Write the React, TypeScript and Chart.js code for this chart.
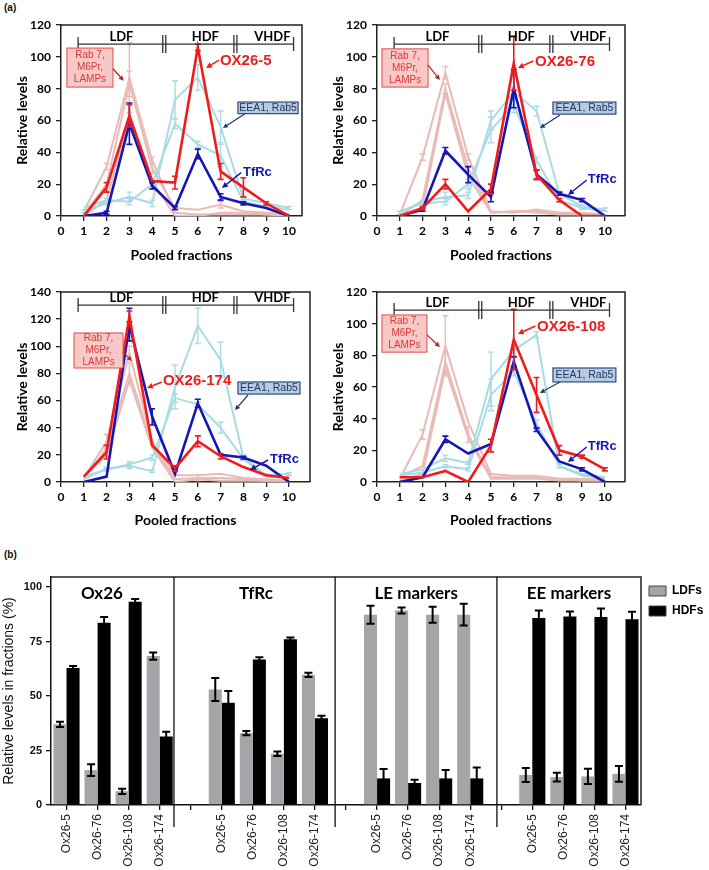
import React, { useEffect, useRef } from 'react';
import { Chart, registerables } from 'chart.js';

Chart.register(...registerables);

// ---------------- data ----------------
const FRACTIONS = [1, 2, 3, 4, 5, 6, 7, 8, 9, 10];
const X_TICKS = [0, 1, 2, 3, 4, 5, 6, 7, 8, 9, 10];
const LE_NAMES = ['Rab 7', 'M6Pr', 'LAMPs'];
const EE_NAMES = ['EEA1', 'Rab5'];

// Panel OX26-5
const OX5 = [0, 18, 63, 22, 21, 106, 28, 18, 8, 0];
const OX5_ERR = [0, 3, 7, 0, 4, 2, 5, 6, 1, 0];
const TF5 = [0, 2, 58, 19, 5, 39, 12, 8, 5, 0];
const TF5_ERR = [0, 1, 13, 2, 1, 3, 2, 1, 0, 0];
const LE5_A = [3, 31, 87, 35, 2, 1, 1, 1, 1, 1];
const LE5_B = [1, 20, 83, 30, 5, 4, 7, 3, 2, 1];
const LE5_C = [0, 10, 62, 22, 0, 0, 2, 2, 1, 0];
const LE5_A_ERR = [0, 2, 22, 2, 0, 0, 0, 0, 0, 0];
const LE5_B_ERR = [0, 0, 8, 3, 0, 0, 2, 0, 0, 0];
const LE5_C_ERR = [0, 0, 0, 0, 0, 0, 0, 0, 0, 0];
const EE5_A = [3, 8, 12, 8, 73, 87, 56, 11, 8, 5];
const EE5_B = [5, 10, 9, 20, 58, 45, 38, 9, 6, 4];
const EE5_A_ERR = [1, 1, 3, 2, 12, 8, 10, 1, 1, 1];
const EE5_B_ERR = [0, 1, 2, 3, 3, 2, 7, 1, 1, 0];

// Panel OX26-76
const OX76 = [0, 5, 20, 3, 17, 96, 26, 10, 0, 0];
const OX76_ERR = [0, 1, 3, 0, 3, 17, 3, 1, 0, 0];
const TF76 = [0, 4, 41, 26, 12, 80, 26, 14, 10, 0];
const TF76_ERR = [0, 1, 2, 5, 3, 12, 3, 1, 1, 0];
const LE76_A = [1, 37, 90, 37, 3, 2, 4, 2, 2, 1];
const LE76_B = [0, 10, 80, 30, 2, 3, 3, 2, 1, 1];
const LE76_C = [0, 5, 77, 25, 2, 3, 2, 1, 1, 1];
const LE76_A_ERR = [0, 2, 4, 2, 0, 0, 0, 0, 0, 0];
const LE76_B_ERR = [0, 0, 3, 0, 0, 0, 0, 0, 0, 0];
const LE76_C_ERR = [0, 0, 0, 0, 0, 0, 0, 0, 0, 0];
const EE76_A = [2, 9, 12, 13, 60, 78, 66, 14, 6, 4];
const EE76_B = [3, 8, 9, 20, 54, 70, 35, 10, 5, 3];
const EE76_A_ERR = [1, 1, 3, 2, 6, 10, 3, 1, 1, 1];
const EE76_B_ERR = [0, 1, 2, 3, 8, 5, 2, 1, 1, 0];

// Panel OX26-174
const OX174 = [4, 22, 122, 27, 10, 30, 19, 11, 5, 3];
const OX174_ERR = [0, 5, 4, 0, 2, 4, 2, 0, 0, 0];
const TF174 = [0, 4, 116, 48, 6, 58, 20, 18, 12, 0];
const TF174_ERR = [0, 0, 12, 6, 0, 3, 0, 1, 0, 0];
const LE174_A = [3, 30, 95, 30, 5, 5, 6, 3, 2, 1];
const LE174_B = [2, 25, 80, 28, 2, 3, 3, 2, 1, 1];
const LE174_C = [4, 20, 75, 25, 0, 2, 1, 1, 1, 1];
const LE174_A_ERR = [0, 5, 5, 0, 0, 0, 0, 0, 0, 0];
const LE174_B_ERR = [0, 0, 8, 0, 0, 2, 0, 0, 0, 0];
const LE174_C_ERR = [0, 0, 0, 0, 0, 0, 0, 0, 0, 0];
const EE174_A = [2, 10, 12, 8, 70, 115, 90, 18, 5, 6];
const EE174_B = [4, 9, 13, 18, 62, 57, 40, 17, 4, 3];
const EE174_A_ERR = [0, 1, 2, 1, 16, 13, 13, 2, 1, 1];
const EE174_B_ERR = [0, 1, 2, 2, 3, 2, 4, 1, 0, 0];

// Panel OX26-108
const OX108 = [3, 3, 7, 0, 23, 90, 55, 20, 16, 8];
const OX108_ERR = [0, 0, 0, 0, 4, 19, 11, 3, 1, 1];
const TF108 = [0, 3, 27, 18, 24, 76, 33, 13, 8, 0];
const TF108_ERR = [0, 0, 2, 0, 0, 3, 1, 0, 1, 0];
const LE108_A = [2, 30, 86, 38, 5, 4, 4, 2, 2, 2];
const LE108_B = [3, 10, 76, 30, 3, 3, 3, 2, 1, 1];
const LE108_C = [1, 5, 72, 28, 2, 2, 2, 1, 1, 1];
const LE108_A_ERR = [0, 3, 19, 0, 0, 0, 0, 0, 0, 0];
const LE108_B_ERR = [0, 0, 6, 5, 0, 0, 0, 0, 0, 0];
const LE108_C_ERR = [0, 0, 0, 0, 0, 0, 0, 0, 0, 0];
const EE108_A = [5, 8, 15, 12, 65, 83, 93, 10, 5, 3];
const EE108_B = [4, 6, 10, 8, 55, 70, 37, 10, 4, 3];
const EE108_A_ERR = [0, 0, 2, 1, 17, 3, 2, 1, 0, 0];
const EE108_B_ERR = [0, 0, 1, 1, 10, 3, 2, 0, 0, 0];

// Bar chart (b)
const ANTIBODIES = ['Ox26-5', 'Ox26-76', 'Ox26-108', 'Ox26-174'];
const BAR_CATEGORIES = [...ANTIBODIES, '', ...ANTIBODIES, '', ...ANTIBODIES, '', ...ANTIBODIES];
const GROUP_TITLES = ['Ox26', 'TfRc', 'LE markers', 'EE markers'];
const LDF_LEVELS = [37, 16, 6.3, 68.3, null, 53, 33, 23.5, 59.7, null, 87.3, 89.2, 87.3, 87.3, null, 13.8, 12.8, 13.1, 14.3];
const LDF_ERR = [1.2, 2.7, 1.2, 1.7, 0, 5.3, 1, 1, 1, 0, 4.1, 1.4, 3.7, 5, 0, 3.2, 2, 3.5, 3.6];
const HDF_LEVELS = [62.8, 83.6, 93.3, 31.4, null, 46.9, 66.8, 76, 39.8, null, 12.2, 10.1, 12.2, 12.2, null, 85.8, 86.5, 86.3, 85.2];
const HDF_ERR = [1, 2.7, 1.2, 2.2, 0, 5.4, 1, 0.8, 1.2, 0, 4.3, 1.5, 3.8, 5, 0, 3.4, 2.3, 3.8, 3.5];

// ---------------- styles ----------------
const RED = '#f01c1c';
const BLUE = '#1616b4';
const PINK = '#e8bbb6';
const LBLUE = '#a9dbe4';
const CAL = 'Lato, "Open Sans", sans-serif';
const ARIAL = '"Liberation Sans", Arial, sans-serif';

// ---------------- plugins ----------------
const errorBarPlugin = {
  id: 'errorBars',
  afterDatasetDraw(chart: any, args: any) {
    const ds: any = chart.data.datasets[args.index];
    const errs = ds.errors;
    if (!errs) return;
    const ys = chart.scales.y;
    const ctx = chart.ctx;
    ctx.save();
    ctx.strokeStyle = ds.errorColor || ds.borderColor;
    ctx.lineWidth = ds.errorWidth || 1.5;
    args.meta.data.forEach((el: any, i: number) => {
      const raw = ds.data[i];
      const v = raw !== null && typeof raw === 'object' ? raw.y : raw;
      const e = errs[i];
      if (v === null || v === undefined || !e) return;
      const x = el.x;
      const yt = ys.getPixelForValue(v + e);
      const yb = ys.getPixelForValue(Math.max(v - e, ys.min));
      const cap = ds.errorCap || 3;
      ctx.beginPath();
      ctx.moveTo(x, yt); ctx.lineTo(x, yb);
      ctx.moveTo(x - cap, yt); ctx.lineTo(x + cap, yt);
      ctx.moveTo(x - cap, yb); ctx.lineTo(x + cap, yb);
      ctx.stroke();
    });
    ctx.restore();
  },
};

function arrow(ctx: CanvasRenderingContext2D, x0: number, y0: number, x1: number, y1: number, color: string, w = 1.4, head = 6) {
  const a = Math.atan2(y1 - y0, x1 - x0);
  const bx = x1 - head * Math.cos(a);
  const by = y1 - head * Math.sin(a);
  ctx.strokeStyle = color;
  ctx.fillStyle = color;
  ctx.lineWidth = w;
  ctx.beginPath(); ctx.moveTo(x0, y0); ctx.lineTo(bx, by); ctx.stroke();
  const hw = head * 0.5;
  ctx.beginPath();
  ctx.moveTo(x1, y1);
  ctx.lineTo(bx + hw * Math.sin(a), by - hw * Math.cos(a));
  ctx.lineTo(bx - hw * Math.sin(a), by + hw * Math.cos(a));
  ctx.closePath();
  ctx.fill();
}

const framePlugin = {
  id: 'frame',
  afterDraw(chart: any) {
    const { ctx, chartArea: a } = chart;
    ctx.save();
    ctx.strokeStyle = '#222';
    ctx.lineWidth = 1.5;
    ctx.beginPath();
    ctx.moveTo(a.left, a.top); ctx.lineTo(a.right, a.top); ctx.lineTo(a.right, a.bottom);
    ctx.stroke();
    ctx.restore();
  },
};

const panelNotesPlugin = {
  id: 'panelNotes',
  afterDraw(chart: any, _args: any, o: any) {
    if (!o || !o.bracketY) return;
    const { ctx } = chart;
    const xs = chart.scales.x, ys = chart.scales.y;
    const X = (v: number) => xs.getPixelForValue(v);
    const Y = (v: number) => ys.getPixelForValue(v);
    ctx.save();
    // bracket LDF | HDF | VHDF
    const by = Y(o.bracketY);
    ctx.strokeStyle = '#333';
    ctx.lineWidth = 1.3;
    ctx.beginPath();
    ctx.moveTo(X(0.75), by); ctx.lineTo(X(10.2), by);
    ctx.moveTo(X(0.75), by - 7); ctx.lineTo(X(0.75), by + 7);
    ctx.moveTo(X(10.2), by - 7); ctx.lineTo(X(10.2), by + 7);
    [4.53, 7.65].forEach((s) => {
      ctx.moveTo(X(s) - 1.5, by - 9); ctx.lineTo(X(s) - 1.5, by + 9);
      ctx.moveTo(X(s) + 1.5, by - 9); ctx.lineTo(X(s) + 1.5, by + 9);
    });
    ctx.stroke();
    ctx.fillStyle = '#000';
    ctx.font = `bold 13px ${CAL}`;
    ctx.textAlign = 'center';
    ctx.textBaseline = 'alphabetic';
    [['LDF', 2.65], ['HDF', 6.33], ['VHDF', 9.27]].forEach(([t, v]: any) => ctx.fillText(t, X(v), by - 3));

    // pink box (late endosome markers)
    const pb = o.pinkBox;
    const px0 = X(pb[0]), py0 = Y(pb[1]), px1 = X(pb[2]), py1 = Y(pb[3]);
    ctx.fillStyle = '#f7c9c6';
    ctx.fillRect(px0, py0, px1 - px0, py1 - py0);
    ctx.strokeStyle = '#e04a4a';
    ctx.lineWidth = 1;
    ctx.strokeRect(px0, py0, px1 - px0, py1 - py0);
    ctx.fillStyle = '#d93a3a';
    ctx.font = `10px ${ARIAL}`;
    ctx.textBaseline = 'middle';
    const cx = (px0 + px1) / 2, cy = (py0 + py1) / 2;
    ['Rab 7,', 'M6Pr,', 'LAMPs'].forEach((t, i) => ctx.fillText(t, cx, cy + (i - 1) * 12));
    const pa = o.pinkArrow;
    arrow(ctx, X(pa[0]), Y(pa[1]), X(pa[2]), Y(pa[3]), '#b02828', 1.2, 5);

    // EEA1 box
    const eb = o.eeBox;
    const ex0 = X(eb[0]), ey0 = Y(eb[1]), ex1 = X(eb[2]), ey1 = Y(eb[3]);
    ctx.fillStyle = '#b9cbe3';
    ctx.fillRect(ex0, ey0, ex1 - ex0, ey1 - ey0);
    ctx.strokeStyle = '#2c4a7c';
    ctx.strokeRect(ex0, ey0, ex1 - ex0, ey1 - ey0);
    ctx.fillStyle = '#1f3864';
    ctx.font = `10.5px ${ARIAL}`;
    ctx.fillText('EEA1, Rab5', (ex0 + ex1) / 2, (ey0 + ey1) / 2 + 0.5);
    const ea = o.eeArrow;
    arrow(ctx, X(ea[0]), Y(ea[1]), X(ea[2]), Y(ea[3]), '#1f3864', 1.2, 5);

    // OX26 label
    ctx.textAlign = 'left';
    ctx.fillStyle = RED;
    ctx.font = `bold 15px ${ARIAL}`;
    ctx.fillText(o.oxLabel, X(o.oxText[0]), Y(o.oxText[1]));
    const oa = o.oxArrow;
    arrow(ctx, X(oa[0]), Y(oa[1]), X(oa[2]), Y(oa[3]), RED, 1.5, 6);

    // TfRc label
    ctx.fillStyle = BLUE;
    ctx.font = `bold 13px ${ARIAL}`;
    ctx.fillText('TfRc', X(o.tfText[0]), Y(o.tfText[1]));
    const ta = o.tfArrow;
    arrow(ctx, X(ta[0]), Y(ta[1]), X(ta[2]), Y(ta[3]), BLUE, 1.5, 6);
    ctx.restore();
  },
};

const barNotesPlugin = {
  id: 'barNotes',
  afterDraw(chart: any, _args: any, o: any) {
    const { ctx, chartArea: a } = chart;
    const xs = chart.scales.x;
    ctx.save();
    ctx.strokeStyle = '#111';
    ctx.lineWidth = 1.3;
    ctx.beginPath();
    o.separators.forEach((s: number) => {
      const x = xs.getPixelForValue(s);
      ctx.moveTo(x, a.top); ctx.lineTo(x, a.bottom + 22);
    });
    ctx.stroke();
    ctx.fillStyle = '#000';
    ctx.font = `bold 17px ${CAL}`;
    ctx.textAlign = 'center';
    ctx.textBaseline = 'middle';
    GROUP_TITLES.forEach((t, i) => ctx.fillText(t, xs.getPixelForValue(o.titlePos[i]), a.top + 17));
    ctx.restore();
  },
};

// ---------------- configs ----------------
type Panel = {
  oxLabel: string;
  ox: number[]; oxErr: number[];
  tf: number[]; tfErr: number[];
  le: number[][]; leErr: number[][];
  ee: number[][]; eeErr: number[][];
  yMax: number; xMax: number;
  padTop: number; padRight: number; xAxisH: number;
  notes: any;
};

const pts = (arr: number[]) => FRACTIONS.map((f, i) => ({ x: f, y: arr[i] }));

function lineConfig(p: Panel): any {
  const datasets: any[] = [
    { label: p.oxLabel, data: pts(p.ox), errors: p.oxErr, borderColor: RED, borderWidth: 2.6, errorWidth: 1.6 },
    { label: 'TfRc', data: pts(p.tf), errors: p.tfErr, borderColor: BLUE, borderWidth: 2.6, errorWidth: 1.6 },
    ...p.ee.map((arr, k) => ({ label: EE_NAMES[k], data: pts(arr), errors: p.eeErr[k], borderColor: LBLUE, borderWidth: 2, errorWidth: 1.4 })),
    ...p.le.map((arr, k) => ({ label: LE_NAMES[k], data: pts(arr), errors: p.leErr[k], borderColor: PINK, borderWidth: 2, errorWidth: 1.4 })),
  ];
  const tickFont = { family: CAL, size: 12, weight: 'bold' as const };
  const titleFont = { family: CAL, size: 14, weight: 'bold' as const };
  return {
    type: 'line',
    data: { datasets },
    options: {
      animation: false,
      responsive: false,
      layout: { padding: { top: p.padTop, right: p.padRight, left: 0, bottom: 0 } },
      elements: { point: { radius: 0 }, line: { tension: 0, fill: false } },
      plugins: { legend: { display: false }, tooltip: { enabled: false }, panelNotes: { ...p.notes, oxLabel: p.oxLabel } },
      scales: {
        x: {
          type: 'linear', min: 0, max: p.xMax,
          afterBuildTicks: (s: any) => { s.ticks = X_TICKS.map((v) => ({ value: v })); },
          afterFit: (s: any) => { s.height = p.xAxisH; },
          ticks: { font: tickFont, color: '#000', padding: 3, maxRotation: 0, autoSkip: false },
          grid: { drawOnChartArea: false, drawTicks: true, tickLength: 5, color: '#222', lineWidth: 1.3 },
          border: { color: '#222', width: 1.5 },
          title: { display: true, text: 'Pooled fractions', font: titleFont, color: '#000', padding: { top: 2, bottom: 1 } },
        },
        y: {
          min: 0, max: p.yMax,
          ticks: { stepSize: 20, font: tickFont, color: '#000', padding: 5 },
          afterFit: (s: any) => { s.width = 61; },
          grid: { drawOnChartArea: false, drawTicks: true, tickLength: 5, color: '#222', lineWidth: 1.3 },
          border: { color: '#222', width: 1.5 },
          title: { display: true, text: 'Relative levels', font: titleFont, color: '#000', padding: { top: 14, bottom: 0 } },
        },
      },
    },
    plugins: [errorBarPlugin, framePlugin, panelNotesPlugin],
  };
}

const PANELS: { panel: Panel; left: number; top: number; width: number; height: number }[] = [
  {
    left: 0, top: 0, width: 316, height: 265,
    panel: {
      oxLabel: 'OX26-5', ox: OX5, oxErr: OX5_ERR, tf: TF5, tfErr: TF5_ERR,
      le: [LE5_A, LE5_B, LE5_C], leErr: [LE5_A_ERR, LE5_B_ERR, LE5_C_ERR],
      ee: [EE5_A, EE5_B], eeErr: [EE5_A_ERR, EE5_B_ERR],
      yMax: 120, xMax: 10.57, padTop: 25, padRight: 14, xAxisH: 49,
      notes: {
        bracketY: 108, pinkBox: [0.26, 105.5, 2.28, 81], pinkArrow: [2.28, 92.5, 2.75, 85],
        eeBox: [7.76, 71.6, 10.4, 64.3], eeArrow: [8.07, 64.3, 7.1, 55.3],
        oxText: [6.97, 97.4], oxArrow: [6.93, 98, 6.36, 93],
        tfText: [7.98, 27.6], tfArrow: [7.9, 27.2, 7.06, 17.6],
      },
    },
  },
  {
    left: 316, top: 0, width: 393, height: 265,
    panel: {
      oxLabel: 'OX26-76', ox: OX76, oxErr: OX76_ERR, tf: TF76, tfErr: TF76_ERR,
      le: [LE76_A, LE76_B, LE76_C], leErr: [LE76_A_ERR, LE76_B_ERR, LE76_C_ERR],
      ee: [EE76_A, EE76_B], eeErr: [EE76_A_ERR, EE76_B_ERR],
      yMax: 120, xMax: 10.88, padTop: 25, padRight: 84, xAxisH: 49,
      notes: {
        bracketY: 108, pinkBox: [0.22, 105, 2.24, 81], pinkArrow: [2.24, 94.8, 2.76, 85.4],
        eeBox: [7.72, 71.6, 10.48, 64], eeArrow: [8.03, 63.4, 7.15, 55.3],
        oxText: [6.93, 96.7], oxArrow: [6.86, 97.4, 6.18, 93],
        tfText: [9.25, 23.2], tfArrow: [9.2, 22.6, 8.38, 13.2],
      },
    },
  },
  {
    left: 0, top: 265, width: 316, height: 265,
    panel: {
      oxLabel: 'OX26-174', ox: OX174, oxErr: OX174_ERR, tf: TF174, tfErr: TF174_ERR,
      le: [LE174_A, LE174_B, LE174_C], leErr: [LE174_A_ERR, LE174_B_ERR, LE174_C_ERR],
      ee: [EE174_A, EE174_B], eeErr: [EE174_A_ERR, EE174_B_ERR],
      yMax: 140, xMax: 10.92, padTop: 27, padRight: 6, xAxisH: 48,
      notes: {
        bracketY: 130.4, pinkBox: [0.57, 109.8, 2.72, 84], pinkArrow: [2.72, 95.8, 3.11, 89.2],
        eeBox: [7.76, 73.7, 10.48, 64.8], eeArrow: [8.2, 64.1, 7.63, 53],
        oxText: [4.47, 74.4], oxArrow: [4.43, 73.7, 3.77, 69.3],
        tfText: [9.17, 17], tfArrow: [9.08, 16.2, 8.29, 8.8],
      },
    },
  },
  {
    left: 316, top: 265, width: 393, height: 265,
    panel: {
      oxLabel: 'OX26-108', ox: OX108, oxErr: OX108_ERR, tf: TF108, tfErr: TF108_ERR,
      le: [LE108_A, LE108_B, LE108_C], leErr: [LE108_A_ERR, LE108_B_ERR, LE108_C_ERR],
      ee: [EE108_A, EE108_B], eeErr: [EE108_A_ERR, EE108_B_ERR],
      yMax: 120, xMax: 10.88, padTop: 27, padRight: 84, xAxisH: 48,
      notes: {
        bracketY: 108.6, pinkBox: [0.22, 105.5, 2.19, 82], pinkArrow: [2.19, 92.9, 2.76, 85.3],
        eeBox: [7.72, 72, 10.48, 63.2], eeArrow: [8.03, 63.2, 7.15, 56.2],
        oxText: [7.02, 97.9], oxArrow: [6.95, 98.5, 6.18, 93.5],
        tfText: [9.25, 22.7], tfArrow: [9.2, 22.1, 8.38, 12.6],
      },
    },
  },
];

function barConfig(): any {
  return {
    type: 'bar',
    data: {
      labels: BAR_CATEGORIES,
      datasets: [
        { label: 'LDFs', data: LDF_LEVELS, errors: LDF_ERR, backgroundColor: '#a5a5a9', borderWidth: 0, errorColor: '#000', errorWidth: 2, errorCap: 4 },
        { label: 'HDFs', data: HDF_LEVELS, errors: HDF_ERR, backgroundColor: '#000', borderWidth: 0, errorColor: '#000', errorWidth: 2, errorCap: 4 },
      ],
    },
    options: {
      animation: false,
      responsive: false,
      layout: { padding: { top: 37, right: 0, left: 0, bottom: 0 } },
      datasets: { bar: { barPercentage: 1, categoryPercentage: 0.84 } },
      plugins: {
        tooltip: { enabled: false },
        legend: {
          position: 'right', align: 'start', maxWidth: 68,
          labels: {
            boxWidth: 17, boxHeight: 10, padding: 8, color: '#000',
            font: { family: ARIAL, size: 12, weight: 'bold' },
            generateLabels: (chart: any) => chart.data.datasets.map((ds: any, i: number) => ({
              text: ds.label, fillStyle: ds.backgroundColor, strokeStyle: '#444', lineWidth: 1,
              hidden: false, datasetIndex: i, fontColor: '#000',
            })),
          },
        },
        barNotes: { separators: [3.46, 8.65, 13.86], titlePos: [1.14, 6.1, 11.26, 16.18] },
      },
      scales: {
        x: {
          type: 'category', offset: true,
          afterFit: (s: any) => { s.height = 65; },
          ticks: { font: { family: ARIAL, size: 12 }, color: '#222', minRotation: 90, maxRotation: 90, padding: 4, autoSkip: false },
          grid: { offset: false, drawOnChartArea: false, drawTicks: true, tickLength: 5, color: '#111', lineWidth: 1.3 },
          border: { color: '#111', width: 1.5 },
        },
        y: {
          min: 0, max: 104.6,
          afterBuildTicks: (s: any) => { s.ticks = [0, 25, 50, 75, 100].map((v) => ({ value: v })); },
          afterFit: (s: any) => { s.width = 51; },
          ticks: { font: { family: ARIAL, size: 11, weight: 'bold' }, color: '#111', padding: 4 },
          grid: { drawOnChartArea: false, drawTicks: true, tickLength: 5, color: '#111', lineWidth: 1.3 },
          border: { color: '#111', width: 1.5 },
          title: { display: true, text: 'Relative levels in fractions (%)', font: { family: ARIAL, size: 14 }, color: '#111', padding: { top: 1, bottom: 0 } },
        },
      },
    },
    plugins: [errorBarPlugin, framePlugin, barNotesPlugin],
  };
}

function ChartCanvas({ make, left, top, width, height }: { make: () => any; left: number; top: number; width: number; height: number }) {
  const ref = useRef<HTMLCanvasElement>(null);
  useEffect(() => {
    const chart = new Chart(ref.current as HTMLCanvasElement, make());
    return () => chart.destroy();
  }, []);
  return <canvas ref={ref} width={width} height={height} style={{ position: 'absolute', left, top, width, height }} />;
}

export default function App() {
  return (
    <div style={{ position: 'absolute', left: 0, top: 0, width: 709, height: 870, background: '#fff', overflow: 'hidden' }}>
      <div style={{ position: 'absolute', left: 4, top: 2, font: `bold 10px ${ARIAL}`, color: '#111' }}>(a)</div>
      <div style={{ position: 'absolute', left: 4, top: 549, font: `bold 10px ${ARIAL}`, color: '#111' }}>(b)</div>
      {PANELS.map((p, i) => (
        <ChartCanvas key={i} make={() => lineConfig(p.panel)} left={p.left} top={p.top} width={p.width} height={p.height} />
      ))}
      <ChartCanvas make={barConfig} left={0} top={540} width={709} height={330} />
    </div>
  );
}
